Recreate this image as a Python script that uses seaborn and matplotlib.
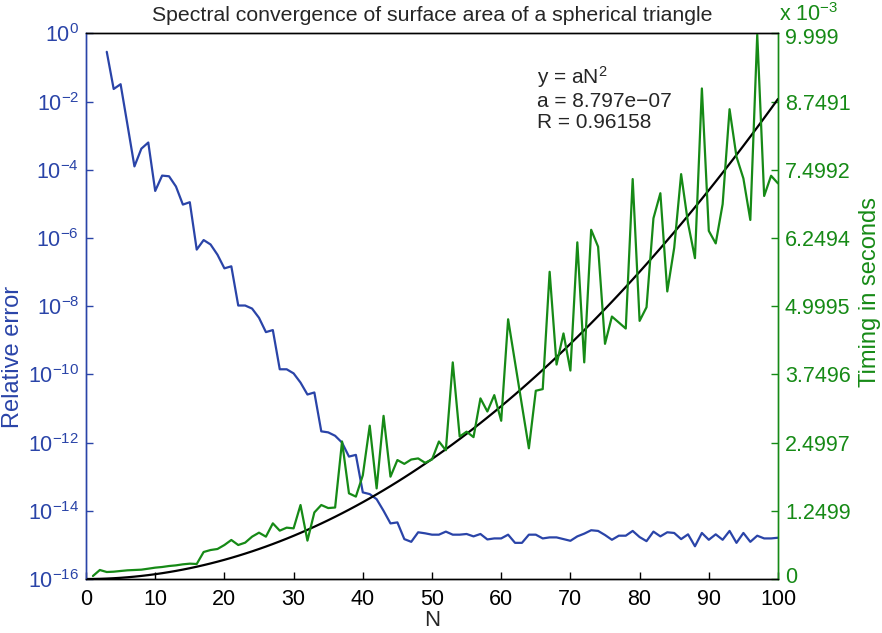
import numpy as np
import pandas as pd
import matplotlib
matplotlib.use("Agg")
import matplotlib.pyplot as plt
import matplotlib.transforms as mtransforms
import seaborn as sns
from matplotlib.ticker import NullLocator, FixedLocator, FixedFormatter

# ---------------- data ----------------
N_error = list(range(3, 101))
rel_error_log10 = [
    -0.54, -1.63, -1.49, -2.69, -3.90, -3.38, -3.20, -4.62, -4.17, -4.19,
    -4.49, -5.02, -4.95, -6.34, -6.06, -6.19, -6.49, -6.89, -6.83, -7.98,
    -7.98, -8.07, -8.34, -8.76, -8.70, -9.85, -9.85, -9.97, -10.24, -10.59,
    -10.53, -11.67, -11.70, -11.80, -12.00, -12.41, -12.36, -13.46, -13.51, -13.66,
    -14.00, -14.37, -14.34, -14.83, -14.91, -14.63, -14.66, -14.70, -14.70, -14.61,
    -14.70, -14.70, -14.68, -14.75, -14.68, -14.84, -14.81, -14.81, -14.70, -14.94,
    -14.94, -14.70, -14.70, -14.81, -14.78, -14.78, -14.83, -14.88, -14.75, -14.67,
    -14.57, -14.59, -14.71, -14.85, -14.73, -14.73, -14.59, -14.77, -14.89, -14.61,
    -14.75, -14.63, -14.65, -14.83, -14.69, -15.04, -14.65, -14.85, -14.69, -14.85,
    -14.59, -14.94, -14.65, -14.91, -14.73, -14.81, -14.81, -14.79,
]

N_timing = list(range(1, 101))
timing_ms = [
    0.055, 0.165, 0.128, 0.134, 0.147, 0.159, 0.165, 0.171, 0.189, 0.208,
    0.220, 0.238, 0.250, 0.269, 0.281, 0.275, 0.495, 0.531, 0.550, 0.623,
    0.715, 0.623, 0.666, 0.776, 0.849, 0.776, 1.020, 0.886, 0.941, 0.928,
    1.356, 0.703, 1.220, 1.356, 1.300, 1.310, 2.520, 1.570, 1.510, 1.900,
    2.810, 1.660, 2.990, 1.875, 2.180, 2.110, 2.190, 2.210, 2.130, 2.190,
    2.520, 2.360, 3.970, 2.610, 2.700, 2.600, 3.310, 3.070, 3.370, 2.900,
    4.760, 3.970, 3.180, 2.395, 3.450, 3.480, 5.630, 3.930, 4.500, 3.820,
    6.170, 3.970, 6.400, 6.090, 4.310, 4.810, 4.700, 4.590, 7.330, 4.730,
    4.980, 6.610, 7.070, 5.270, 6.070, 7.420, 6.520, 5.880, 8.990, 6.380,
    6.150, 6.870, 8.610, 7.740, 7.340, 6.580, 9.980, 7.020, 7.390, 7.250,
]

fit_a = 8.797e-07          # seconds, y = a N^2
fit_R = 0.96158
N_fit = list(range(0, 101))

x_ticks = [0, 10, 20, 30, 40, 50, 60, 70, 80, 90, 100]
timing_tick_labels = ["0", "1.2499", "2.4997", "3.7496", "4.9995",
                      "6.2494", "7.4992", "8.7491", "9.999"]
error_tick_exponents = [0, -2, -4, -6, -8, -10, -12, -14, -16]

# ---------------- style ----------------
sns.set_style("white")
plt.rcParams["font.family"] = ["Liberation Sans", "DejaVu Sans"]
plt.rcParams["mathtext.fontset"] = "custom"
plt.rcParams["mathtext.rm"] = "Liberation Sans"
plt.rcParams["mathtext.it"] = "Liberation Sans:italic"
plt.rcParams["mathtext.bf"] = "Liberation Sans:bold"

BLUE = "#2a44a8"
GREEN = "#168a16"
FS = 15.5
LFS = 17
LW = 1.6

df_err = pd.DataFrame({"N": N_error, "err": [10.0 ** v for v in rel_error_log10]})
df_time = pd.DataFrame({"N": N_timing, "t": timing_ms})
df_fit = pd.DataFrame({"N": N_fit, "t": [fit_a * n * n * 1e3 for n in N_fit]})

fig = plt.figure(figsize=(8.82, 6.33), dpi=100)
ax = fig.add_axes([86 / 882, 1 - 579 / 633, (778 - 86) / 882, (579 - 33.4) / 633])
ax.set_yscale("log")
sns.lineplot(data=df_err, x="N", y="err", ax=ax, color=BLUE, lw=LW)
ax.set_xlim(0, 100)
ax.set_ylim(1e-16, 1e0)
ax.yaxis.set_major_locator(FixedLocator([10.0 ** e for e in error_tick_exponents]))
ax.yaxis.set_major_formatter(FixedFormatter(
    [r"$10^{%d}$" % e for e in error_tick_exponents]))
ax.yaxis.set_minor_locator(NullLocator())
ax.set_xticks(x_ticks)
ax.set_xticklabels([str(v) for v in x_ticks])
ax.tick_params(axis="y", colors=BLUE, direction="in", length=5, width=1,
               labelsize=FS, left=True, right=False, pad=5)
ax.tick_params(axis="x", colors="black", direction="in", length=5, width=1,
               labelsize=FS, bottom=True, top=False, pad=7)
ax.set_xlabel("N", fontsize=LFS - 1)
ax.xaxis.set_label_coords(0.5, -(610 - 579) / 545.6)
ax.set_ylabel("Relative error", fontsize=LFS, color=BLUE)
ax.yaxis.set_label_coords(-(86 - 24) / 692, (579 - 357) / 545.6)

ax2 = ax.twinx()
sns.lineplot(data=df_fit, x="N", y="t", ax=ax2, color="black", lw=LW)
sns.lineplot(data=df_time, x="N", y="t", ax=ax2, color=GREEN, lw=LW)
ax2.set_xlim(0, 100)
ax2.set_ylim(0, 9.999)
ax2.set_yticks([float(s) for s in timing_tick_labels])
ax2.set_yticklabels(timing_tick_labels)
ax2.tick_params(axis="y", colors=GREEN, direction="in", length=5, width=1,
                labelsize=FS, right=True, left=False, pad=5)
ax2.set_ylabel("Timing in seconds", fontsize=LFS, color=GREEN)
ax2.yaxis.set_label_coords(1 + (859 - 778) / 692, (579 - 292) / 545.6)

# nudge the end labels of the right axis inward, as in the reference
rlabels = ax2.get_yticklabels()
up = mtransforms.ScaledTranslation(0, 4 / 100, fig.dpi_scale_trans)
down = mtransforms.ScaledTranslation(0, -3 / 100, fig.dpi_scale_trans)
rlabels[0].set_transform(rlabels[0].get_transform() + up)
rlabels[-1].set_transform(rlabels[-1].get_transform() + down)

for a in (ax, ax2):
    for s in a.spines.values():
        s.set_linewidth(1.0)
        s.set_visible(True)
    a.spines["left"].set_color(BLUE)
    a.spines["right"].set_color(GREEN)
    a.spines["top"].set_color("black")
    a.spines["bottom"].set_color("black")

ax.set_title("Spectral convergence of surface area of a spherical triangle",
             fontsize=15.3, pad=9)
fig.text(779 / 882, 1 - 15 / 633, r"x 10$^{-3}$", color=GREEN, fontsize=FS,
         ha="left", va="center")
fig.text(537 / 882, 1 - 64 / 633,
         "y = aN$^{2}$\na = %s\nR = %s" % ("8.797e\u221207", f"{fit_R}"),
         fontsize=15, ha="left", va="top", linespacing=1.12)

fig.savefig("out.png", dpi=100)
